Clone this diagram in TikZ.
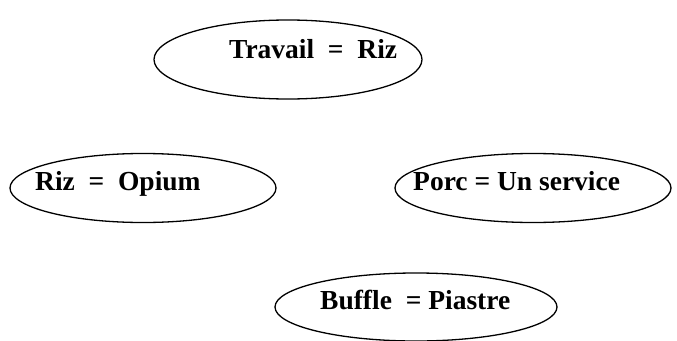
\documentclass[tikz,border=0pt]{standalone}
\usepackage{fontspec}
\setmainfont{Liberation Serif}
\usetikzlibrary{shapes.geometric}

\begin{document}
\begin{tikzpicture}[
  x=1pt, y=1pt,
  line cap=round,
  line join=round,
  every node/.style={font=\fontsize{27.5}{30}\selectfont\bfseries},
  oval/.style={draw, ellipse, line width=1.3pt, inner sep=0pt, outer sep=0pt},
  term/.style={anchor=base west, inner sep=0pt}
]
  \useasboundingbox (0,0) rectangle (677,-340);

  % ellipses
  \node[oval, minimum width=268, minimum height=79] (travail) at (288,-59.5) {};
  \node[oval, minimum width=266, minimum height=69] (riz) at (143,-188) {};
  \node[oval, minimum width=276, minimum height=69] (porc) at (533,-188) {};
  \node[oval, minimum width=282, minimum height=68] (buffle) at (416,-307) {};

  % texts, set off-centre as in the original
  \node[term] (travailTxt) at (229,-58) {Travail\ \ =\ \ Riz};
  \node[term] (rizTxt) at (35,-190) {Riz\ \ =\ \ Opium};
  \node[term] (porcTxt) at (413,-190) {Porc = Un service};
  \node[term] (buffleTxt) at (320,-309) {Buffle\ \ = Piastre};
\end{tikzpicture}
\end{document}
